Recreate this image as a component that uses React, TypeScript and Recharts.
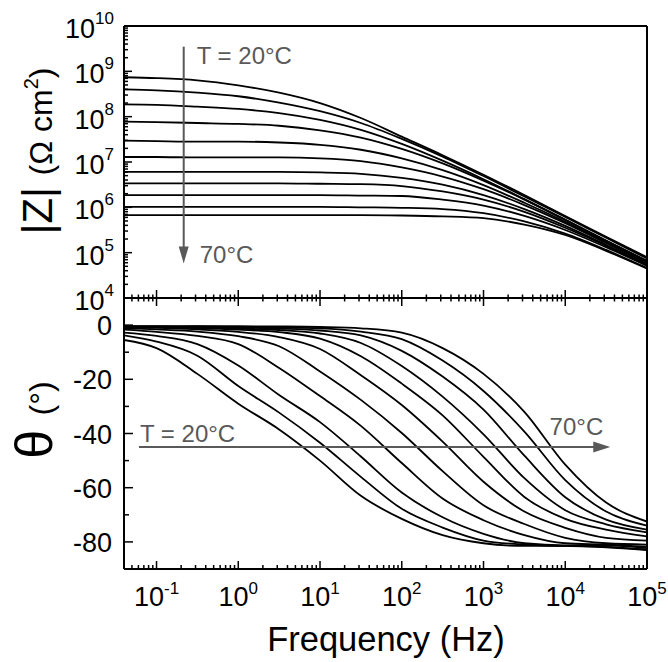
import { LineChart, Line, XAxis, YAxis, ReferenceLine } from 'recharts'

const FONT = '"Liberation Sans", Arial, sans-serif'
const GREY = '#595959'

// sampled frequencies (Hz)
const freqHz = [0.04, 0.1, 0.316, 1, 3.16, 10, 31.6, 100, 316, 1000, 3162, 10000, 31623, 100000]
const temps = [20, 25, 30, 35, 40, 45, 50, 55, 60, 65, 70]

// log10 |Z| (ohm cm2), one row per temperature
const z20 = [8.87, 8.85, 8.8, 8.69, 8.53, 8.3, 7.97, 7.56, 7.15, 6.72, 6.27, 5.81, 5.35, 4.9]
const z25 = [8.6, 8.58, 8.53, 8.45, 8.31, 8.12, 7.86, 7.51, 7.12, 6.69, 6.24, 5.79, 5.33, 4.87]
const z30 = [8.27, 8.26, 8.22, 8.17, 8.08, 7.93, 7.71, 7.4, 7.03, 6.62, 6.18, 5.73, 5.27, 4.82]
const z35 = [7.89, 7.88, 7.86, 7.84, 7.8, 7.7, 7.54, 7.29, 6.97, 6.59, 6.17, 5.72, 5.26, 4.81]
const z40 = [7.47, 7.46, 7.45, 7.45, 7.43, 7.38, 7.27, 7.08, 6.82, 6.49, 6.1, 5.68, 5.23, 4.78]
const z45 = [7.11, 7.11, 7.1, 7.1, 7.1, 7.08, 7.02, 6.88, 6.68, 6.4, 6.05, 5.65, 5.21, 4.76]
const z50 = [6.78, 6.78, 6.78, 6.78, 6.78, 6.77, 6.74, 6.65, 6.5, 6.27, 5.96, 5.59, 5.17, 4.74]
const z55 = [6.53, 6.53, 6.53, 6.53, 6.53, 6.52, 6.51, 6.47, 6.35, 6.17, 5.9, 5.55, 5.15, 4.73]
const z60 = [6.27, 6.27, 6.27, 6.27, 6.27, 6.27, 6.26, 6.25, 6.17, 6.04, 5.81, 5.5, 5.12, 4.71]
const z65 = [6.01, 6.01, 6.01, 6.01, 6.01, 6.01, 6.0, 5.99, 5.96, 5.87, 5.69, 5.42, 5.06, 4.66]
const z70 = [5.83, 5.83, 5.83, 5.83, 5.83, 5.83, 5.83, 5.82, 5.8, 5.76, 5.62, 5.39, 5.04, 4.65]

// phase angle (deg)
const th20 = [-5.5, -8.5, -18, -29, -38.5, -50, -63, -71.5, -77.5, -80.5, -81.5, -81.5, -82, -83]
const th25 = [-3.8, -6.1, -11.3, -22.5, -32.3, -43.4, -56, -67.8, -74.7, -79.5, -81, -81.5, -81.8, -82.8]
const th30 = [-2.8, -4, -7, -14.9, -25.8, -35.8, -48.5, -61.8, -70.9, -77, -80.5, -81.3, -81.3, -82.3]
const th35 = [-1.7, -2.5, -4, -7, -15.8, -26.2, -37.2, -50.9, -64, -72, -77.5, -80.5, -81, -81.8]
const th40 = [-1.1, -1.6, -2.4, -4.1, -7.8, -17.1, -27.6, -39.8, -53.9, -66.5, -73.4, -78.5, -80.5, -81]
const th45 = [-0.8, -1, -1.6, -2.5, -4.4, -8.8, -18.5, -29.5, -43, -57.8, -68.8, -74.8, -78.5, -79.5]
const th50 = [-0.7, -0.7, -1.1, -1.7, -2.6, -5, -11.5, -21.6, -33.3, -48.6, -63.4, -71.5, -75.5, -78]
const th55 = [-0.6, -0.6, -0.8, -1.3, -1.8, -3.1, -6.6, -15.1, -26.4, -40.3, -56.5, -68.3, -73.5, -76.5]
const th60 = [-0.5, -0.5, -0.6, -0.9, -1.3, -2, -3.8, -9.5, -19, -31.2, -48.2, -63.5, -71.8, -75.5]
const th65 = [-0.5, -0.5, -0.5, -0.7, -0.9, -1.2, -2.4, -5.2, -13.1, -24.3, -39.3, -57.2, -68.8, -74]
const th70 = [-0.5, -0.5, -0.4, -0.4, -0.5, -0.7, -1.2, -2.8, -8.5, -18, -32, -51.5, -65.5, -72.5]

const zRows = [z20, z25, z30, z35, z40, z45, z50, z55, z60, z65, z70]
const thRows = [th20, th25, th30, th35, th40, th45, th50, th55, th60, th65, th70]

const rows = freqHz.map((f, i) => {
  const r: Record<string, number> = { f }
  temps.forEach((t, k) => {
    r['z' + t] = 10 ** zRows[k][i]
    r['p' + t] = thRows[k][i]
  })
  return r
})

// axis ticks
const minorSteps = [1, 2, 3, 4, 5, 6, 7, 8, 9]
const xTicks: number[] = []
for (let e = -2; e <= 4; e++) minorSteps.forEach((m) => { const v = m * 10 ** e; if (v >= 0.05) xTicks.push(v) })
xTicks.push(1e5)
const zTicks: number[] = []
for (let e = 4; e <= 9; e++) minorSteps.forEach((m) => zTicks.push(m * 10 ** e))
zTicks.push(1e10)
const thTicks = [-80, -70, -60, -50, -40, -30, -20, -10, 0]

const isDecade = (v: number) => Math.abs(Math.log10(v) - Math.round(Math.log10(v))) < 1e-6
const AX = { stroke: '#000', strokeWidth: 2 }

function MidTick({ x, y, payload }: any) {
  const len = isDecade(payload.value) ? 8 : 3.5
  return <line x1={x} x2={x} y1={y - len} y2={y + len} stroke="#000" strokeWidth={1.5} />
}

function FreqTick({ x, y, payload }: any) {
  const v = payload.value
  if (!isDecade(v)) return <line x1={x} x2={x} y1={y} y2={y - 4} stroke="#000" strokeWidth={1.5} />
  const e = Math.round(Math.log10(v))
  return (
    <g>
      <line x1={x} x2={x} y1={y} y2={y - 8} stroke="#000" strokeWidth={1.5} />
      <text x={x} y={y + 37} textAnchor="middle" fontSize={27} fontFamily={FONT} fill="#000">
        <tspan>10</tspan>
        <tspan dy={-12} fontSize={17}>{e}</tspan>
      </text>
    </g>
  )
}

function ZTick({ x, y, payload }: any) {
  const v = payload.value
  if (!isDecade(v)) return <line x1={x} x2={x + 4} y1={y} y2={y} stroke="#000" strokeWidth={1.5} />
  const e = Math.round(Math.log10(v))
  return (
    <g>
      <line x1={x} x2={x + 8} y1={y} y2={y} stroke="#000" strokeWidth={1.5} />
      <text x={x - 10} y={y + 12} textAnchor="end" fontSize={27} fontFamily={FONT} fill="#000">
        <tspan>10</tspan>
        <tspan dy={-14} fontSize={17}>{e}</tspan>
      </text>
    </g>
  )
}

function ThTick({ x, y, payload }: any) {
  const v = payload.value
  const major = v % 20 === 0
  return (
    <g>
      <line x1={x} x2={x + (major ? 9 : 5)} y1={y} y2={y} stroke="#000" strokeWidth={1.5} />
      {major && (
        <text x={x - 12} y={y + 10} textAnchor="end" fontSize={27} fontFamily={FONT} fill="#000">
          {v}
        </text>
      )}
    </g>
  )
}

function DownArrow({ x1, y1, x2, y2 }: any) {
  return (
    <g>
      <line x1={x1} y1={y1} x2={x2} y2={y2 - 12} stroke={GREY} strokeWidth={2} />
      <polygon points={`${x2 - 5},${y2 - 17} ${x2 + 5},${y2 - 17} ${x2},${y2}`} fill={GREY} />
      <text x={x1 + 13} y={y1 + 17} fontSize={24} fontFamily={FONT} fill={GREY}>T = 20°C</text>
      <text x={x2 + 16} y={y2} fontSize={24} fontFamily={FONT} fill={GREY}>70°C</text>
    </g>
  )
}

function RightArrow({ x1, y1, x2, y2 }: any) {
  return (
    <g>
      <line x1={x1} y1={y1} x2={x2 - 12} y2={y2} stroke={GREY} strokeWidth={2} />
      <polygon points={`${x2 - 17},${y2 - 5.5} ${x2 - 17},${y2 + 5.5} ${x2},${y2}`} fill={GREY} />
      <text x={x1 + 1} y={y1 - 5} fontSize={24} fontFamily={FONT} fill={GREY}>T = 20°C</text>
      <text x={x2 - 7} y={y2 - 12} textAnchor="end" fontSize={24} fontFamily={FONT} fill={GREY}>70°C</text>
    </g>
  )
}

const xAxisCommon = {
  dataKey: 'f',
  type: 'number' as const,
  scale: 'log' as const,
  domain: [0.04, 100000],
  allowDataOverflow: true,
  ticks: xTicks,
  interval: 0,
  tickLine: false,
  tickSize: 0,
  tickMargin: 0,
  axisLine: AX,
}

export default function App() {
  return (
    <div style={{ position: 'absolute', left: 0, top: 0, width: 668, height: 662, background: '#fff' }}>
      <div style={{ position: 'absolute', left: 0, top: 0 }}>
        <LineChart width={668} height={330} data={rows} margin={{ top: 26, right: 21, bottom: 31, left: 0 }}>
          <XAxis {...xAxisCommon} tick={MidTick} height={1} />
          <YAxis
            type="number"
            scale="log"
            domain={[1e4, 1e10]}
            allowDataOverflow
            ticks={zTicks}
            interval={0}
            tick={ZTick}
            tickLine={false}
            tickSize={0}
            tickMargin={0}
            width={124}
            axisLine={AX}
          />
          <ReferenceLine y={1e10} stroke="#000" strokeWidth={2} ifOverflow="visible" />
          <ReferenceLine x={1e5} stroke="#000" strokeWidth={2} ifOverflow="visible" />
          {temps.map((t) => (
            <Line key={t} dataKey={'z' + t} type="monotone" stroke="#000" strokeWidth={1.8} dot={false} isAnimationActive={false} />
          ))}
          <ReferenceLine segment={[{ x: 0.215, y: 3.5e9 }, { x: 0.215, y: 5.8e4 }]} shape={DownArrow} ifOverflow="visible" />
        </LineChart>
      </div>
      <div style={{ position: 'absolute', left: 0, top: 290 }}>
        <LineChart width={668} height={372} data={rows} margin={{ top: 8, right: 21, bottom: 0, left: 0 }}>
          <XAxis {...xAxisCommon} tick={FreqTick} height={93} />
          <YAxis
            type="number"
            domain={[-90, 10]}
            allowDataOverflow
            ticks={thTicks}
            interval={0}
            tick={ThTick}
            tickLine={false}
            tickSize={0}
            tickMargin={0}
            width={124}
            axisLine={AX}
          />
          <ReferenceLine x={1e5} stroke="#000" strokeWidth={2} ifOverflow="visible" />
          {temps.map((t) => (
            <Line key={t} dataKey={'p' + t} type="monotone" stroke="#000" strokeWidth={1.8} dot={false} isAnimationActive={false} />
          ))}
          <ReferenceLine segment={[{ x: 0.061, y: -45 }, { x: 35500, y: -45 }]} shape={RightArrow} ifOverflow="visible" />
        </LineChart>
      </div>
      <svg width={668} height={662} style={{ position: 'absolute', left: 0, top: 0, pointerEvents: 'none' }}>
        <text transform="translate(52,151) rotate(-90)" textAnchor="middle" fontFamily={FONT} fill="#000">
          <tspan fontSize={42}>|Z| </tspan>
          <tspan fontSize={32}>(Ω cm</tspan>
          <tspan fontSize={20} dy={-14}>2</tspan>
          <tspan fontSize={32} dy={14}>)</tspan>
        </text>
        <text transform="translate(52,420) rotate(-90)" textAnchor="middle" fontFamily={FONT} fill="#000">
          <tspan fontSize={52}>θ </tspan>
          <tspan fontSize={32}>(°)</tspan>
        </text>
        <text x={386} y={651} textAnchor="middle" fontSize={34.5} fontFamily={FONT} fill="#000">
          Frequency (Hz)
        </text>
      </svg>
    </div>
  )
}
